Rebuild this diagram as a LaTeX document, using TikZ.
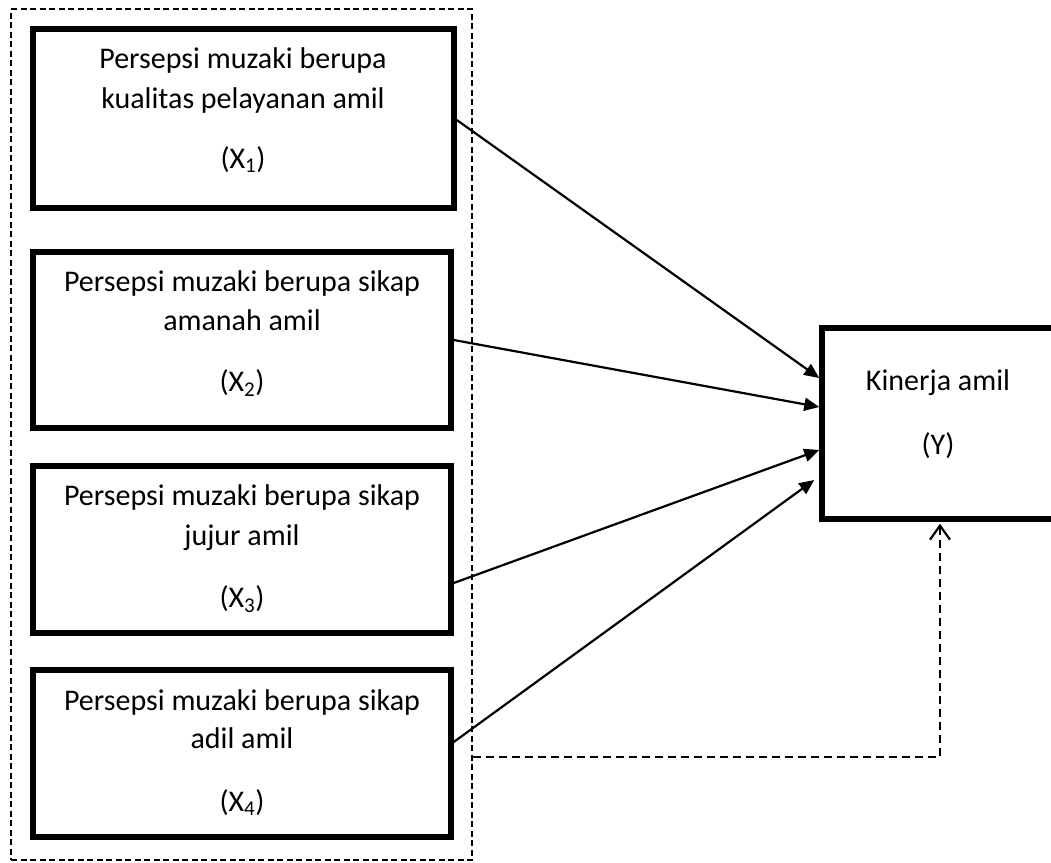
\documentclass[tikz,border=0pt]{standalone}
\usepackage{fontspec}
\setmainfont{Carlito}
\usetikzlibrary{arrows.meta}
\begin{document}
\begin{tikzpicture}[x=1pt,y=-1pt,
  box/.style={draw,line width=5.5pt,rectangle,minimum width=418pt,inner sep=0pt},
  txt/.style={anchor=base,inner sep=0pt,font=\fontsize{30}{36}\selectfont},
  arr/.style={line width=2.2pt,-{Triangle[length=15pt,width=13pt]}},
  outerdash/.style={draw,line width=1.6pt,dash pattern=on 6pt off 3.5pt,rectangle,inner sep=0pt},
  conndash/.style={line width=2.2pt,dash pattern=on 8pt off 5pt,-{Straight Barb[length=14pt,width=20pt,line width=2.2pt]}}
]
\useasboundingbox (0,0) rectangle (1051,862);
% outer dashed frame
\node[outerdash,minimum width=461pt,minimum height=851pt] (outer) at (241.5,434.5) {};
% boxes
\node[box,minimum width=421pt,minimum height=179pt] (b1) at (243.5,118.5) {};
\node[box,minimum height=176pt] (b2) at (242,340) {};
\node[box,minimum height=167pt] (b3) at (242,549.5) {};
\node[box,minimum height=167pt] (b4) at (242,753.5) {};
\node[box,minimum width=232pt,minimum height=191pt] (Y) at (938,423.5) {};
% texts
\node[txt] (t1a) at (243,68) {Persepsi muzaki berupa};
\node[txt] (t1b) at (243,108) {kualitas pelayanan amil};
\node[txt] (t1c) at (243,168) {(X\textsubscript{1})};
\node[txt] (t2a) at (242,291) {Persepsi muzaki berupa sikap};
\node[txt] (t2b) at (242,330) {amanah amil};
\node[txt] (t2c) at (242,391) {(X\textsubscript{2})};
\node[txt] (t3a) at (242,505) {Persepsi muzaki berupa sikap};
\node[txt] (t3b) at (242,545) {jujur amil};
\node[txt] (t3c) at (242,607) {(X\textsubscript{3})};
\node[txt] (t4a) at (242,710) {Persepsi muzaki berupa sikap};
\node[txt] (t4b) at (242,748) {adil amil};
\node[txt] (t4c) at (242,811) {(X\textsubscript{4})};
\node[txt] (ya) at (938,390) {Kinerja amil};
\node[txt] (yb) at (938,454) {(Y)};
% arrows
\draw[arr] ([yshift=-1.5pt]b1.east) -- ([yshift=45.5pt]Y.west);
\draw[arr] (b2.east) -- ([yshift=16.5pt]Y.west);
\draw[arr] ([yshift=-33.5pt]b3.east) -- ([yshift=-26.5pt]Y.west);
\draw[arr] ([yshift=11.5pt]b4.east) -- ([xshift=-5pt,yshift=-56.5pt]Y.west);
% dashed connector
\draw[conndash] ([yshift=-322.5pt]outer.east) -| ([xshift=2pt,yshift=-2pt]Y.south);
\end{tikzpicture}
\end{document}
